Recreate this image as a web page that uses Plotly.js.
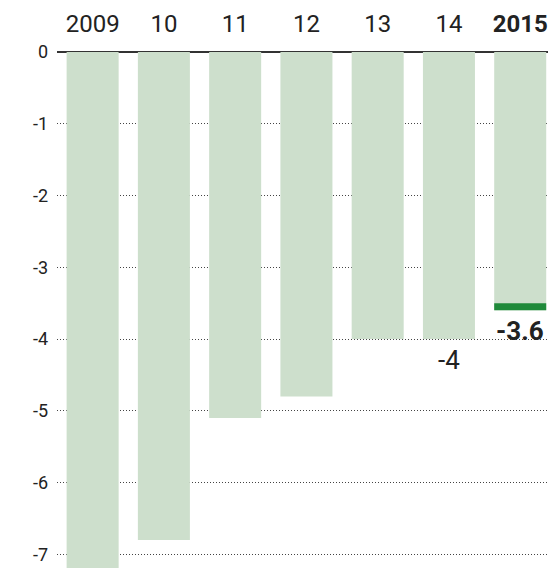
<!DOCTYPE html>
<html>
<head>
<meta charset="utf-8">
<script src="https://cdn.plot.ly/plotly-3.0.1.min.js"></script>
<style>
html,body{margin:0;padding:0;background:#fff;}
#chart{width:548px;height:568px;}
</style>
</head>
<body>
<div id="chart"></div>
<script>
// Data
const categories = ['2009', '10', '11', '12', '13', '14', '2015'];
const categoryLabels = ['2009', '10', '11', '12', '13', '14', '<b>2015</b>'];
const values = [-7.2, -6.8, -5.1, -4.8, -4.0, -4.0, -3.6];
const highlightCategories = ['2015'];
const highlightValues = [-3.6];
const valueLabelCategories = ['14', '2015'];
const valueLabelValues = [-4.0, -3.6];
const valueLabelTexts = ['-4', '<b>-3.6</b>'];
const yTickVals = [0, -1, -2, -3, -4, -5, -6, -7];
const yTickText = ['0', '-1', '-2', '-3', '-4', '-5', '-6', '-7'];

// Styles
const LIGHT = '#cddfcc';
const DARK = '#1f8a3a';
const TEXT = '#222222';
const BAND = 0.1; // highlight band thickness in axis units
const FONT = 'Roboto, "Liberation Sans", Arial, sans-serif';

const traces = [
  {
    type: 'bar',
    x: categories,
    y: values,
    marker: {color: LIGHT},
    hoverinfo: 'none'
  },
  {
    type: 'bar',
    x: highlightCategories,
    base: highlightValues,
    y: highlightValues.map(() => BAND),
    marker: {color: DARK},
    hoverinfo: 'none'
  }
];

const annotations = valueLabelCategories.map((c, i) => ({
  x: categories.indexOf(c),
  y: valueLabelValues[i],
  xref: 'x',
  yref: 'y',
  text: valueLabelTexts[i],
  showarrow: false,
  xanchor: 'center',
  yanchor: 'middle',
  yshift: -21,
  font: {family: FONT, size: 26, color: TEXT}
}));

const layout = {
  width: 548,
  height: 568,
  margin: {l: 57, r: 0, t: 52, b: 0, pad: 0},
  paper_bgcolor: '#ffffff',
  plot_bgcolor: '#ffffff',
  showlegend: false,
  barmode: 'overlay',
  bargap: 0.27,
  font: {family: FONT, color: TEXT},
  xaxis: {
    type: 'category',
    side: 'top',
    range: [-0.5, 6.39],
    tickvals: categories,
    ticktext: categoryLabels,
    tickfont: {family: FONT, size: 24, color: TEXT},
    ticks: '',
    ticklabelstandoff: 14,
    showgrid: false,
    zeroline: false,
    showline: false,
    fixedrange: true
  },
  yaxis: {
    range: [-7.19, 0],
    tickvals: yTickVals,
    ticktext: yTickText,
    tickfont: {family: FONT, size: 18, color: TEXT},
    ticks: '',
    ticklabelstandoff: 8,
    showgrid: true,
    gridcolor: '#444444',
    gridwidth: 1,
    griddash: '1px,2px',
    zeroline: true,
    zerolinecolor: '#333333',
    zerolinewidth: 1.5,
    showline: false,
    fixedrange: true
  },
  annotations: annotations
};

Plotly.newPlot('chart', traces, layout, {displayModeBar: false, staticPlot: true});
</script>
</body>
</html>
